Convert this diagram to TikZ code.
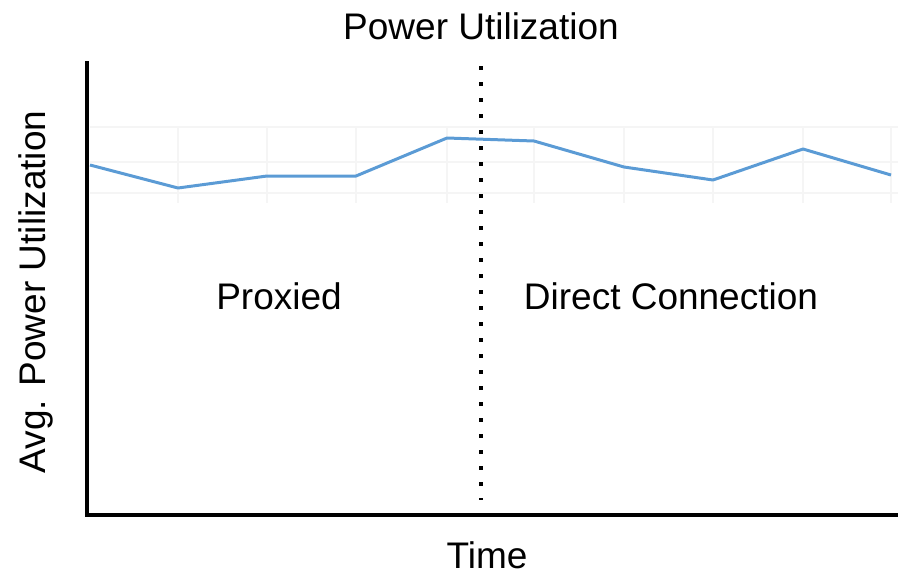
\documentclass[tikz,border=0pt]{standalone}
\usepackage{fontspec}
\setmainfont{Liberation Sans}
\definecolor{seriesblue}{RGB}{91,155,213}
\begin{document}
\begin{tikzpicture}[x=1pt,y=-1pt,
  lbl/.style={font=\fontsize{37}{44}\selectfont, inner sep=0pt},
  axisline/.style={line width=3.6pt, line cap=rect},
  gridline/.style={draw=black!4, line width=1.5pt},
  series/.style={draw=seriesblue, line width=3pt, line join=round},
  divider/.style={line width=4pt, dash pattern=on 4pt off 12pt}
]
\useasboundingbox (0,0) rectangle (898,574);
% faint background grid
\foreach \gy in {127,162,193} \draw[gridline] (90,\gy) -- (898,\gy);
\foreach \gx in {178,267,356,447,534,624,713,803,891} \draw[gridline] (\gx,127) -- (\gx,203);
% data series
\draw[series] (90,165) -- (178,188) -- (267,176) -- (356,176) -- (447,138) -- (534,141) -- (624,167) -- (713,180) -- (803,149) -- (891,175);
% axes
\coordinate (ytop) at (87,63);
\coordinate (origin) at (87,515);
\coordinate (xend) at (897,515);
\draw[axisline] (ytop) -- (origin) -- (xend);
% divider between the two phases
\coordinate (dtop) at (481,66);
\coordinate (dbot) at (481,500);
\draw[divider] (dtop) -- (dbot);
% labels
\node[lbl] (title) at (481,26) {Power Utilization};
\node[lbl] (prox) at (279,296) {Proxied};
\node[lbl] (direct) at (671,296) {Direct Connection};
\node[lbl, text depth=0pt, anchor=base] (xlab) at (487,568) {Time};
\node[lbl, rotate=90] (ylab) at (36,292) {Avg. Power Utilization};
\end{tikzpicture}
\end{document}
